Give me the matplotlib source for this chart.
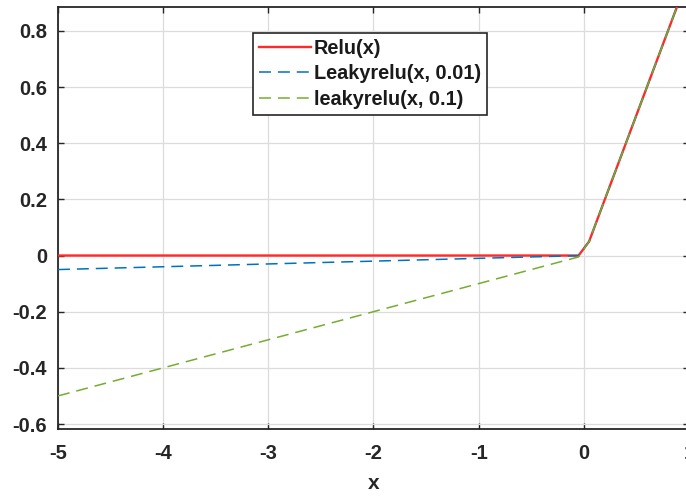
import matplotlib
matplotlib.use("Agg")
import matplotlib.pyplot as plt

x_pts = [-5.0, -0.05, 0.05, 1.0]
relu_y = [0.0, 0.0, 0.05, 1.0]
leaky001_y = [-0.05, -0.0005, 0.05, 1.0]
leaky01_y = [-0.5, -0.005, 0.05, 1.0]

etiquetas = ["Relu(x)", "Leakyrelu(x, 0.01)", "leakyrelu(x, 0.1)"]
x_ticks = [-5, -4, -3, -2, -1, 0, 1]
y_ticks = [-0.6, -0.4, -0.2, 0, 0.2, 0.4, 0.6, 0.8]
y_ticklabels = ['-0.6', '-0.4', '-0.2', '0', '0.2', '0.4', '0.6', '0.8']

plt.rcParams['font.family'] = ['Liberation Sans', 'DejaVu Sans']
plt.rcParams['font.weight'] = 'bold'
plt.rcParams['axes.unicode_minus'] = False
plt.rcParams['lines.scale_dashes'] = False

gris = '#262626'
fig = plt.figure(figsize=(6.86, 4.98), dpi=100)
ax = fig.add_axes([58 / 686, 1 - 428.5 / 498, (689 - 58) / 686, (428.5 - 7) / 498])

ax.plot(x_pts, relu_y, color='#ff2a2a', lw=1.7, label=etiquetas[0], zorder=3)
ax.plot(x_pts, leaky001_y, color='#0072BD', lw=1.1, dashes=(8.6, 5), label=etiquetas[1], zorder=4)
ax.plot(x_pts, leaky01_y, color='#77AC30', lw=1.1, dashes=(8.6, 5), label=etiquetas[2], zorder=5)

ax.set_xlim(-5, 1)
ax.set_ylim(-0.616, 0.885)
ax.set_xticks(x_ticks)
ax.set_yticks(y_ticks)
ax.set_yticklabels(y_ticklabels)
ax.grid(True, color='#dcdcdc', lw=0.9)
ax.set_axisbelow(True)
ax.tick_params(direction='in', length=4, width=1.0, colors=gris, labelsize=14.5,
               top=True, right=True)
ax.tick_params(axis='x', pad=11)
ax.tick_params(axis='y', pad=8)
for s in ax.spines.values():
    s.set_color(gris)
    s.set_linewidth(1.3)

ax.set_xlabel('x', fontsize=15, fontweight='bold', color=gris, labelpad=8)

leg = ax.legend(loc='upper left', bbox_to_anchor=(253 / 686, 1 - 33 / 498),
                bbox_transform=fig.transFigure, fontsize=14.3, handlelength=2.6,
                handletextpad=0.15, fancybox=False, framealpha=1,
                edgecolor=gris, borderpad=0.3, labelspacing=0.32, borderaxespad=0)
leg.get_frame().set_linewidth(1.2)
for t in leg.get_texts():
    t.set_color('#1a1a1a')

fig.savefig('out.png', dpi=100)
